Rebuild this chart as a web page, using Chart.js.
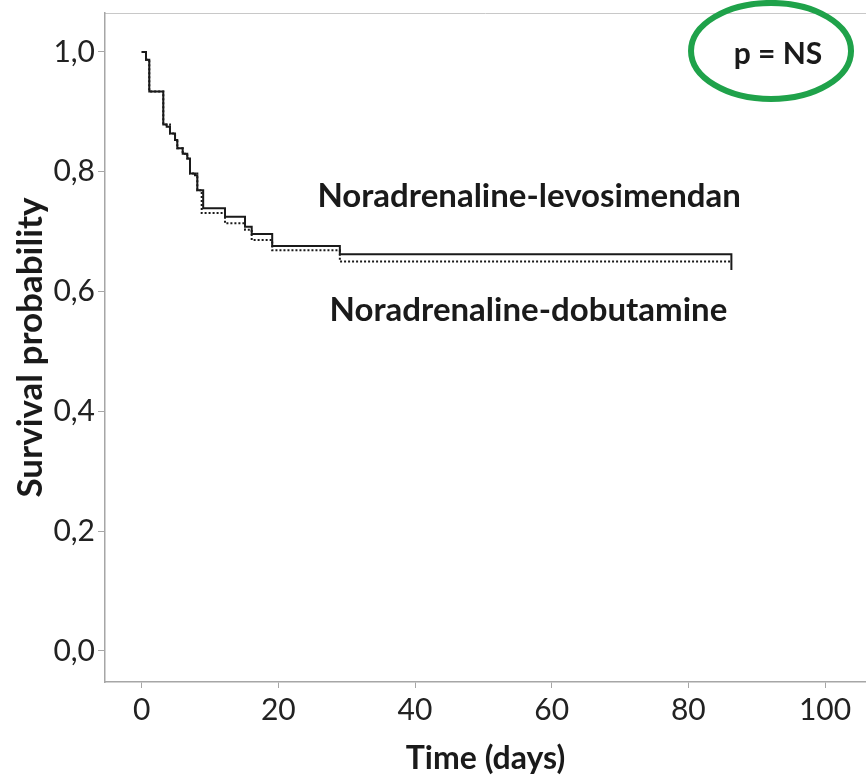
<!DOCTYPE html>
<html>
<head>
<meta charset="utf-8">
<script src="https://cdn.jsdelivr.net/npm/chart.js@4"></script>
<style>
  html, body { margin: 0; padding: 0; background: #fff; }
  #wrap { width: 866px; height: 778px; }
</style>
</head>
<body>
<div id="wrap"><canvas id="kmChart" width="866" height="778"></canvas></div>
<script>
// Kaplan-Meier curves (time in days, survival probability)
const levoTimes = [0, 0.63, 1.11, 3.16, 3.66, 4.14, 4.88, 5.21, 6.0, 6.67, 7.07, 7.8, 8.14, 9.0, 12.19, 15.12, 16.1, 19.1, 29.0, 86.3];
const levoSurv  = [1.0, 0.987, 0.934, 0.879, 0.875, 0.864, 0.853, 0.839, 0.830, 0.822, 0.797, 0.794, 0.769, 0.739, 0.725, 0.708, 0.696, 0.676, 0.662, 0.636];

const dobuTimes = [0, 0.63, 1.11, 3.16, 4.14, 4.88, 5.21, 6.0, 6.67, 7.07, 8.14, 8.78, 12.19, 15.12, 16.1, 19.1, 29.0, 86.3];
const dobuSurv  = [1.0, 0.987, 0.934, 0.879, 0.864, 0.853, 0.839, 0.830, 0.822, 0.797, 0.769, 0.731, 0.714, 0.703, 0.686, 0.669, 0.650, 0.650];

const xTickValues = [0, 20, 40, 60, 80, 100];
const yTickValues = [0, 0.2, 0.4, 0.6, 0.8, 1.0];

const seriesNames = ['Noradrenaline-levosimendan', 'Noradrenaline-dobutamine'];
const pValueText = 'p = NS';

const toPoints = (ts, ss) => ts.map((t, i) => ({ x: t, y: ss[i] }));

const axisGrey = '#a6a6a6';
const fontFam = 'Lato, "Open Sans", sans-serif';

const annotations = {
  id: 'annotations',
  beforeDraw(chart) {
    const { ctx, chartArea: a } = chart;
    ctx.save();
    ctx.strokeStyle = '#c8c8c8';
    ctx.lineWidth = 1;
    ctx.beginPath();
    ctx.moveTo(a.left, a.top + 0.5);
    ctx.lineTo(a.right, a.top + 0.5);
    ctx.stroke();
    ctx.restore();
  },
  afterDraw(chart) {
    const { ctx, scales: { x, y } } = chart;
    ctx.save();
    ctx.fillStyle = '#1a1a1a';
    ctx.font = 'bold 33px ' + fontFam;
    ctx.textAlign = 'center';
    ctx.textBaseline = 'middle';
    ctx.fillText(seriesNames[0], x.getPixelForValue(56.7), y.getPixelForValue(0.759));
    ctx.fillText(seriesNames[1], x.getPixelForValue(56.6), y.getPixelForValue(0.569));

    // p-value with green ellipse
    const cx = x.getPixelForValue(92.1), cy = y.getPixelForValue(1.0);
    ctx.font = 'bold 30px ' + fontFam;
    ctx.fillText(pValueText, cx + 7, cy + 2);
    ctx.strokeStyle = '#1fa24a';
    ctx.lineWidth = 6;
    ctx.beginPath();
    ctx.ellipse(cx, cy - 1, 80, 48, 0, 0, Math.PI * 2);
    ctx.stroke();
    ctx.restore();
  }
};

const ctx = document.getElementById('kmChart').getContext('2d');
new Chart(ctx, {
  type: 'line',
  data: {
    datasets: [{
      label: seriesNames[0],
      data: toPoints(levoTimes, levoSurv),
      borderColor: '#1a1a1a',
      borderWidth: 2,
      stepped: 'before',
      pointRadius: 0,
      fill: false
    }, {
      label: seriesNames[1],
      data: toPoints(dobuTimes, dobuSurv),
      borderColor: '#1a1a1a',
      borderWidth: 2,
      borderDash: [2, 2],
      stepped: 'before',
      pointRadius: 0,
      fill: false
    }]
  },
  options: {
    responsive: false,
    animation: false,
    layout: { padding: { top: 13, right: 0, left: 0, bottom: 0 } },
    plugins: { legend: { display: false }, tooltip: { enabled: false } },
    scales: {
      x: {
        type: 'linear',
        min: -5.37,
        max: 106.0,
        afterBuildTicks: s => { s.ticks = xTickValues.map(v => ({ value: v })); },
        afterFit: s => { s.height = 96; s.paddingLeft = 0; s.paddingRight = 0; },
        grid: { drawOnChartArea: false, drawTicks: true, tickLength: 6, color: axisGrey },
        border: { display: true, color: axisGrey, width: 1.5 },
        ticks: { color: '#222', font: { family: fontFam, size: 30 }, padding: 4, maxRotation: 0 },
        title: { display: true, text: 'Time (days)', color: '#1a1a1a',
                 font: { family: fontFam, size: 32, weight: 'bold' }, padding: { top: 0, bottom: 0 } }
      },
      y: {
        min: -0.052,
        max: 1.065,
        afterBuildTicks: s => { s.ticks = yTickValues.map(v => ({ value: v })); },
        afterFit: s => { s.width = 105; s.paddingTop = 0; s.paddingBottom = 0; },
        grid: { drawOnChartArea: false, drawTicks: true, tickLength: 7, color: axisGrey },
        border: { display: true, color: axisGrey, width: 1.5 },
        ticks: { color: '#222', font: { family: fontFam, size: 30 }, padding: 3,
                 callback: v => v.toFixed(1).replace('.', ',') },
        title: { display: true, text: 'Survival probability', color: '#1a1a1a',
                 font: { family: fontFam, size: 35, weight: 'bold' }, padding: { top: 10, bottom: 0 } }
      }
    }
  },
  plugins: [annotations]
});
</script>
</body>
</html>
